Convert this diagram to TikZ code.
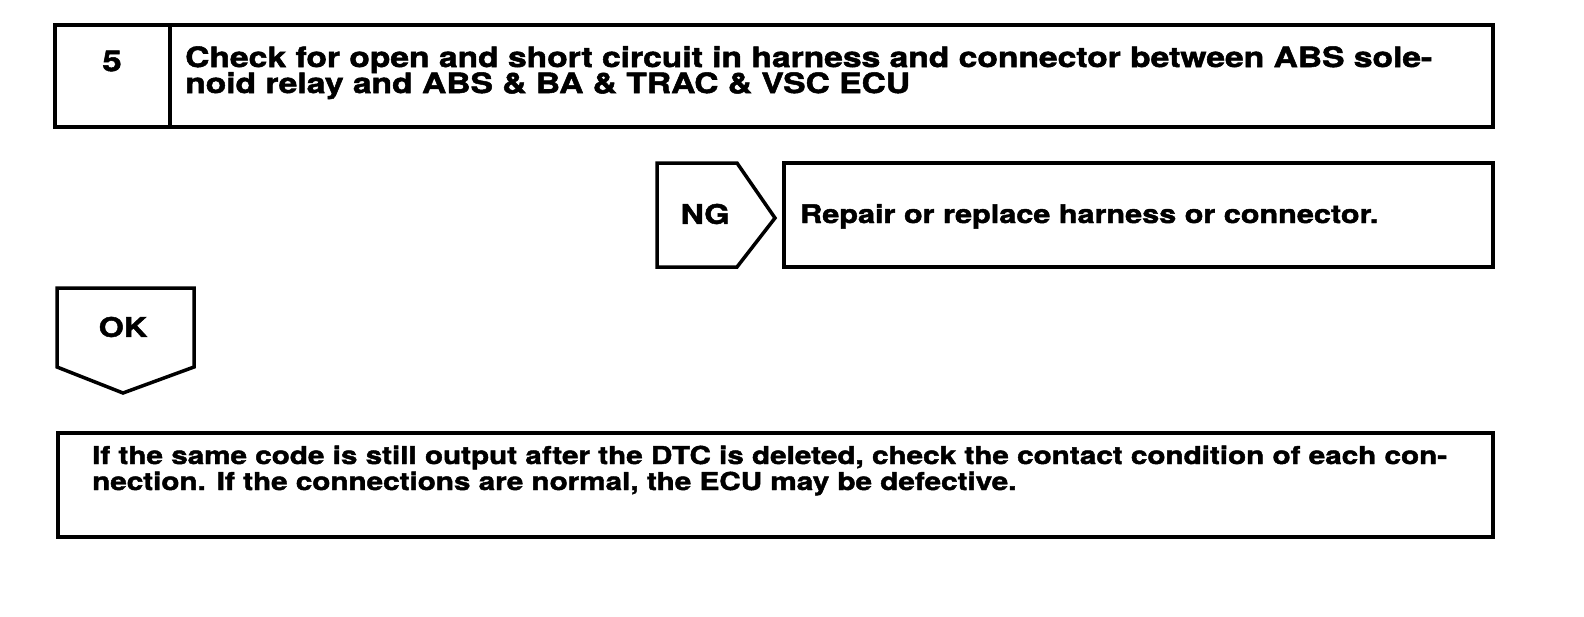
\documentclass[tikz,border=0pt]{standalone}
\usepackage{fontspec}
\setmainfont{TeX Gyre Heros}[FakeStretch=1.2,FakeBold=1.8]
\begin{document}
\begin{tikzpicture}[x=1pt,y=-1pt,
  frame/.style={draw=black,line width=3.5pt,line join=miter},
  txt/.style={inner sep=0pt,anchor=base west,font=\bfseries},
  lbl/.style={inner sep=0pt,font=\fontsize{27}{24}\selectfont\bfseries}]
\useasboundingbox[fill=white] (0,0) rectangle (1584,616);
% step box
\draw[frame] (55,25) rectangle (1493,127);
\draw[frame] (170,25) -- (170,127);
\node[lbl,font=\fontsize{29}{24}\selectfont\bfseries] (num) at (112,61) {5};
\node[txt,font=\fontsize{28}{24}\selectfont\bfseries] (title1) at (185,67) {Check for open and short circuit in harness and connector between ABS sole-};
\node[txt,font=\fontsize{28}{24}\selectfont\bfseries] (title2) at (185,93) {noid relay and ABS \& BA \& TRAC \& VSC ECU};
% NG
\draw[frame] (657,163) -- (737,163) -- (775,218) -- (737,267) -- (657,267) -- cycle;
\node[lbl] (ng) at (705,214) {NG};
\draw[frame] (784,163) rectangle (1493,267);
\node[txt,font=\fontsize{25.5}{24}\selectfont\bfseries] (repair) at (800,223) {Repair or replace harness or connector.};
% OK
\draw[frame] (57,288) -- (194,288) -- (194,367) -- (123,393) -- (57,367) -- cycle;
\node[lbl] (ok) at (123,327) {OK};
% result
\draw[frame] (58,433) rectangle (1493,537);
\node[txt,font=\fontsize{24.7}{24}\selectfont\bfseries] (res1) at (92,464) {If the same code is still output after the DTC is deleted, check the contact condition of each con-};
\node[txt,font=\fontsize{24.7}{24}\selectfont\bfseries] (res2) at (92,490) {nection. If the connections are normal, the ECU may be defective.};
\end{tikzpicture}
\end{document}
